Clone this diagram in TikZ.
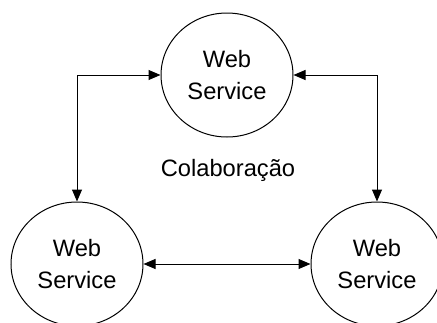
\documentclass[tikz,border=0pt]{standalone}
\usepackage{fontspec}
\setmainfont{Liberation Sans}
\usetikzlibrary{shapes.geometric,arrows.meta}
\tikzset{
  service/.style={draw, ellipse, line width=1pt, inner sep=0pt,
    minimum width=132pt, minimum height=124pt, align=center,
    font=\fontsize{23.7}{32}\selectfont},
  link/.style={line width=1pt, {Triangle[length=12pt,width=10pt]}-{Triangle[length=12pt,width=10pt]}},
}
\begin{document}
\begin{tikzpicture}[x=1pt, y=-1pt]
  \useasboundingbox (0,0) rectangle (437,322);
  \clip (0,0) rectangle (437,322);
  \node[service] (top) at (227,75) {Web\\Service};
  \node[service] (left) at (77,264) {Web\\Service};
  \node[service] (right) at (377,264) {Web\\Service};
  \node[font=\fontsize{23.7}{28}\selectfont] (label) at (228,170) {Colaboração};
  \draw[link] (top.west) -| (left.north);
  \draw[link] (top.east) -| (right.north);
  \draw[link] (left.east) -- (right.west);
\end{tikzpicture}
\end{document}
